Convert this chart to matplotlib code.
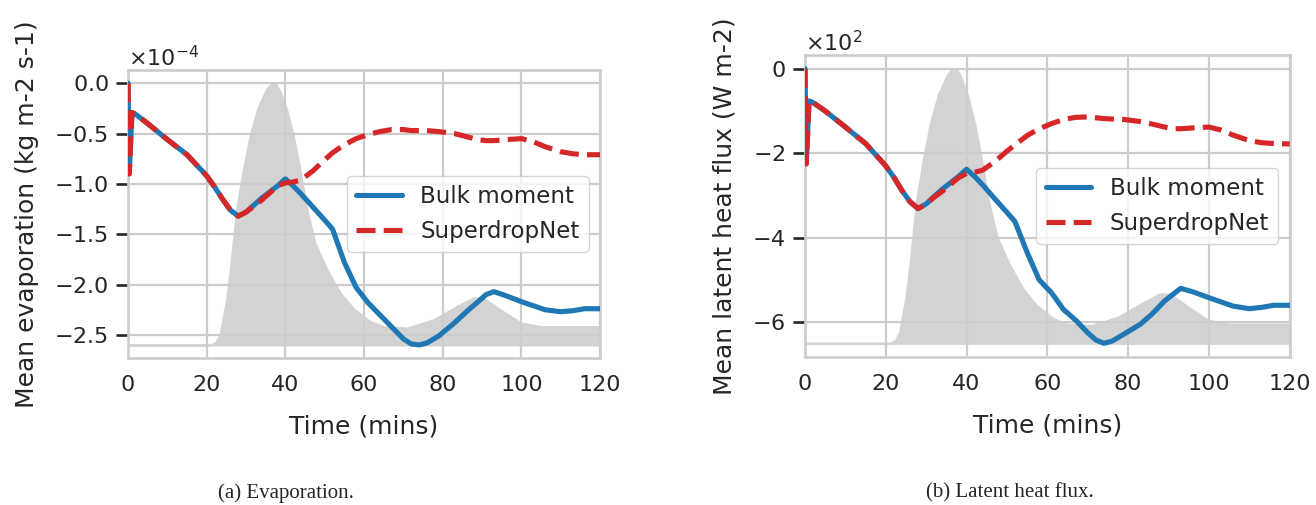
import numpy as np
import matplotlib
matplotlib.use("Agg")
import matplotlib.pyplot as plt
from matplotlib.ticker import MultipleLocator
import seaborn as sns

sns.set_theme(style="whitegrid")
plt.rcParams['font.family'] = ['DejaVu Sans']

# ---- data ----
time = [0, 0.3, 1, 2, 5, 10, 15, 20, 22, 24, 26, 28, 30, 32, 34, 36, 38, 40, 42, 44, 47,
        50, 52, 55, 58, 61, 64, 67, 70, 72, 74, 76, 79, 83, 86, 89, 91, 93, 96, 100, 103,
        106, 110, 113, 116, 120]

# evaporation, units of 1e-4 kg m-2 s-1
evap_bulk = [0, -0.9, -0.29, -0.31, -0.40, -0.56, -0.71, -0.92, -1.03, -1.15, -1.26, -1.32,
             -1.28, -1.21, -1.14, -1.08, -1.02, -0.95, -1.02, -1.10, -1.23, -1.36, -1.45,
             -1.78, -2.03, -2.18, -2.30, -2.42, -2.54, -2.59, -2.60, -2.58, -2.51, -2.38,
             -2.27, -2.17, -2.10, -2.07, -2.11, -2.17, -2.21, -2.25, -2.27, -2.26, -2.24, -2.24]
evap_sdn = [0, -0.9, -0.29, -0.31, -0.40, -0.56, -0.71, -0.92, -1.03, -1.15, -1.26, -1.32,
            -1.28, -1.22, -1.16, -1.09, -1.02, -0.99, -0.98, -0.96, -0.87, -0.76, -0.69,
            -0.61, -0.55, -0.51, -0.48, -0.46, -0.46, -0.47, -0.47, -0.47, -0.48, -0.50,
            -0.53, -0.56, -0.57, -0.57, -0.56, -0.55, -0.58, -0.63, -0.68, -0.70, -0.71, -0.71]

# latent heat flux, units of 1e2 W m-2
lhf_bulk = [0, -2.25, -0.76, -0.80, -1.00, -1.38, -1.77, -2.30, -2.57, -2.88, -3.15, -3.31,
            -3.20, -3.02, -2.85, -2.70, -2.55, -2.38, -2.55, -2.75, -3.08, -3.40, -3.62,
            -4.35, -5.00, -5.30, -5.70, -5.95, -6.25, -6.42, -6.50, -6.45, -6.28, -6.05,
            -5.80, -5.50, -5.35, -5.20, -5.28, -5.42, -5.52, -5.62, -5.68, -5.65, -5.60, -5.60]
lhf_sdn = [0, -2.25, -0.76, -0.80, -1.00, -1.38, -1.77, -2.30, -2.57, -2.88, -3.15, -3.31,
           -3.20, -3.04, -2.90, -2.74, -2.58, -2.48, -2.45, -2.40, -2.20, -1.95, -1.80,
           -1.58, -1.42, -1.30, -1.20, -1.15, -1.14, -1.16, -1.18, -1.19, -1.20, -1.25,
           -1.31, -1.38, -1.42, -1.42, -1.40, -1.38, -1.45, -1.57, -1.70, -1.75, -1.77, -1.78]

# normalised background profile (grey shading)
prof_time = [0, 21, 22.3, 23.4, 25, 26, 27.6, 29.3, 31, 33.1, 35.3, 36.5, 37.5, 38.6, 40.3,
             42, 43.7, 45.4, 47.5, 50.5, 53.9, 57.2, 61.5, 65, 71, 77.6, 82.7, 87.8, 90.3,
             94.6, 99.7, 104.8, 120]
prof_vals = [0, 0, 0.01, 0.04, 0.17, 0.29, 0.52, 0.67, 0.80, 0.91, 0.98, 1.0, 1.0, 0.97,
             0.90, 0.80, 0.67, 0.52, 0.39, 0.29, 0.20, 0.14, 0.09, 0.07, 0.065, 0.096, 0.14,
             0.18, 0.18, 0.135, 0.085, 0.07, 0.07]

xticks = [0, 20, 40, 60, 80, 100, 120]
labels = ["Bulk moment", "SuperdropNet"]
ylabels = ["Mean evaporation (kg m-2 s-1)", "Mean latent heat flux (W m-2)"]
captions = ["(a) Evaporation.", "(b) Latent heat flux."]

fig = plt.figure(figsize=(13.16, 5.05), dpi=100)
axes = [fig.add_axes([0.0973, 0.291, 0.3587, 0.570]),
        fig.add_axes([0.6117, 0.293, 0.3683, 0.598])]

t = np.array(time)
series = [(np.array(evap_bulk) * 1e-4, np.array(evap_sdn) * 1e-4, 0.5e-4),
          (np.array(lhf_bulk) * 1e2, np.array(lhf_sdn) * 1e2, 200)]

grid_c = "#cccccc"
dark = "#262626"
for ax, (bulk, sdn, step), yl in zip(axes, series, ylabels):
    ax.set_axisbelow(True)
    base = min(bulk.min(), sdn.min())
    pv = np.array(prof_vals)
    ax.fill_between(prof_time, base, base + pv * (0 - base), color="lightgray",
                    edgecolor="lightgray", linewidth=1.5, zorder=0.3)
    ax.plot(t, bulk, color="#1f77b4", lw=3.7, label=labels[0], zorder=3)
    ax.plot(t, sdn, color="#d62728", lw=3.7, ls="--", label=labels[1], zorder=4)
    ax.set_xlim(0, 120)
    ax.set_xticks(xticks)
    ax.yaxis.set_major_locator(MultipleLocator(step))
    ax.ticklabel_format(axis="y", style="sci", scilimits=(0, 0), useMathText=True)
    ax.yaxis.get_offset_text().set_fontsize(16)
    ax.yaxis.get_offset_text().set_color(dark)
    ax.tick_params(axis="both", labelsize=16, labelcolor=dark)
    ax.tick_params(axis="y", left=True, length=9, width=1.9, color=dark, pad=5)
    ax.tick_params(axis="x", bottom=False, pad=6)
    ax.grid(True, color=grid_c, lw=1.6)
    for s in ax.spines.values():
        s.set_color(grid_c)
        s.set_linewidth(1.9)
    ax.set_xlabel("Time (mins)", fontsize=18, color=dark, labelpad=14)
    ax.set_ylabel(yl, fontsize=18, color=dark, labelpad=11)
    leg = ax.legend(loc="center right", fontsize=16.5, frameon=True)
    leg.get_frame().set_edgecolor(grid_c)
    for txt in leg.get_texts():
        txt.set_color(dark)
    leg.set_zorder(5)

fig.text(286 / 1316, 1 - 493 / 505, captions[0], ha="center", va="center",
         fontsize=15, family="Liberation Serif")
fig.text(1010 / 1316, 1 - 493 / 505, captions[1], ha="center", va="center",
         fontsize=15, family="Liberation Serif")

fig.savefig("out.png", dpi=100)
